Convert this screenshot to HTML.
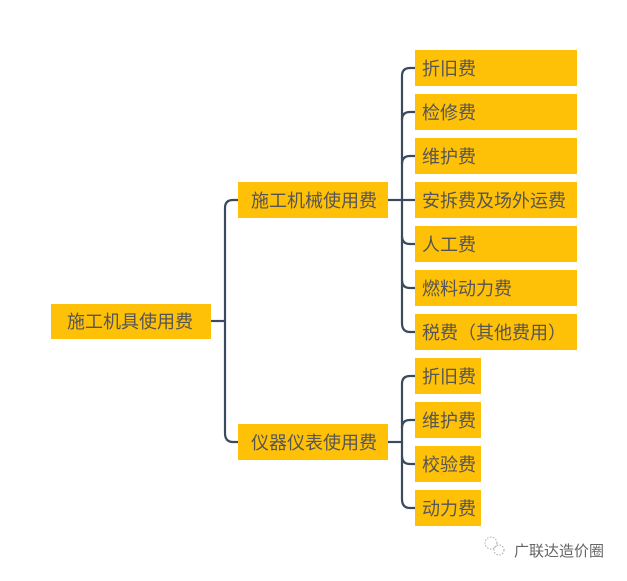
<!DOCTYPE html>
<html><head><meta charset="utf-8"><style>
body{margin:0;width:627px;height:576px;background:#fff;overflow:hidden;font-family:"Liberation Sans","Noto Sans CJK SC",sans-serif}
</style></head><body>
<svg width="627" height="576" xmlns="http://www.w3.org/2000/svg" font-family="Liberation Sans, Noto Sans CJK SC, sans-serif">
<g fill="none" stroke="#3b4a5e" stroke-width="2.2">
<path d="M211 321 H225"/>
<path d="M238 200 H233 Q225 200 225 208 V433 Q225 442 233 442 H238"/>
<path d="M388 200 H402"/>
<path d="M415 68 H410 Q402 68 402 76 V323 Q402 332 410 332 H415"/>
<path d="M402 120 Q402 112 410 112 H415"/>
<path d="M402 164 Q402 156 410 156 H415"/>
<path d="M402 200 H415"/>
<path d="M402 236 Q402 244 410 244 H415"/>
<path d="M402 280 Q402 288 410 288 H415"/>
<path d="M388 442 H402"/>
<path d="M415 376 H410 Q402 376 402 384 V499 Q402 508 410 508 H415"/>
<path d="M402 428 Q402 420 410 420 H415"/>
<path d="M402 456 Q402 464 410 464 H415"/>
</g>
<g fill="#ffc107">
<rect x="51" y="304" width="160" height="35"/>
<rect x="238" y="182" width="150" height="36"/>
<rect x="238" y="424" width="150" height="36"/>
<rect x="415" y="50" width="162" height="36"/>
<rect x="415" y="94" width="162" height="36"/>
<rect x="415" y="138" width="162" height="36"/>
<rect x="415" y="182" width="162" height="36"/>
<rect x="415" y="226" width="162" height="36"/>
<rect x="415" y="270" width="162" height="36"/>
<rect x="415" y="314" width="162" height="36"/>
<rect x="415" y="358" width="66" height="36"/>
<rect x="415" y="402" width="66" height="36"/>
<rect x="415" y="446" width="66" height="36"/>
<rect x="415" y="490" width="66" height="36"/>
</g>
<g fill="#555" font-size="18">
<text x="67" y="328">施工机具使用费</text>
<text x="251" y="207">施工机械使用费</text>
<text x="251" y="449">仪器仪表使用费</text>
<text x="422" y="75">折旧费</text>
<text x="422" y="119">检修费</text>
<text x="422" y="163">维护费</text>
<text x="422" y="207">安拆费及场外运费</text>
<text x="422" y="251">人工费</text>
<text x="422" y="295">燃料动力费</text>
<text x="422" y="339">税费（其他费用）</text>
<text x="422" y="383">折旧费</text>
<text x="422" y="427">维护费</text>
<text x="422" y="471">校验费</text>
<text x="422" y="515">动力费</text>
</g>
<g fill="none" stroke="#aaa" stroke-width="1" stroke-dasharray="1.5 1.5">
<circle cx="491" cy="543" r="6"/><circle cx="499" cy="550" r="5"/>
</g>
<text x="514" y="556" font-size="15" fill="#666">广联达造价圈</text>
</svg>
</body></html>
